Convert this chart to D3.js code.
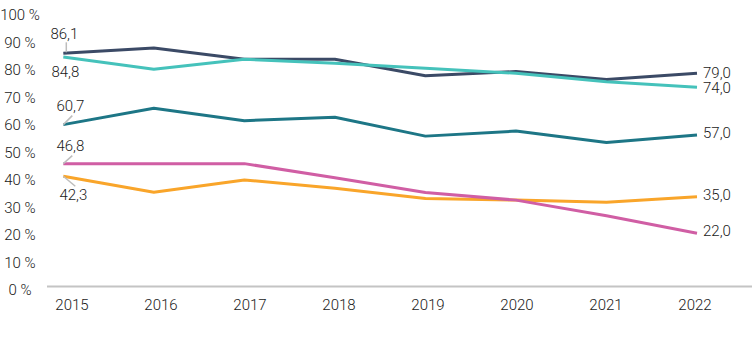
<!DOCTYPE html>
<html>
<head>
<meta charset="utf-8">
<script src="https://cdn.jsdelivr.net/npm/d3@7"></script>
<style>
html,body{margin:0;padding:0;background:#fff;}
svg text{font-family:Roboto,"Noto Sans",sans-serif;font-size:15px;font-weight:300;fill:#1a1a1a;}
</style>
</head>
<body>
<svg id="chart" width="752" height="346"></svg>
<script>
const years = [2015, 2016, 2017, 2018, 2019, 2020, 2021, 2022];
const yTicks = [0, 10, 20, 30, 40, 50, 60, 70, 80, 90, 100];
const seriesNavy      = [86.1, 88.0, 84.0, 84.0, 78.1, 79.6, 76.8, 79.0];
const seriesTurquoise = [84.8, 80.4, 84.0, 82.6, 80.8, 79.0, 76.0, 74.0];
const seriesTeal      = [60.7, 66.5, 62.1, 63.3, 56.6, 58.4, 54.3, 57.0];
const seriesPink      = [46.8, 46.8, 46.8, 41.8, 36.5, 33.8, 28.2, 22.0];
const seriesOrange    = [42.3, 36.6, 41.0, 38.0, 34.4, 33.8, 33.0, 35.0];

const series = [
  {name:"navy", values:seriesNavy, color:"#3b4a66", first:{dx:1, dy:-19, lead:[[3,-1],[3,-11]]}, last:{dy:0}},
  {name:"turquoise", values:seriesTurquoise, color:"#45c2bb", first:{dx:2, dy:15, lead:null}, last:{dy:0.5}},
  {name:"teal", values:seriesTeal, color:"#1d7686", first:{dx:7, dy:-19, lead:[[0,0],[9,-9]]}, last:{dy:-2}},
  {name:"pink", values:seriesPink, color:"#d05ea4", first:{dx:7, dy:-18, lead:[[0,0],[9,-8]]}, last:{dy:-2}},
  {name:"orange", values:seriesOrange, color:"#f9a52a", first:{dx:10, dy:19, lead:[[0,0],[12,10]]}, last:{dy:-2}}
];

const fmt = v => d3.format(".1f")(v).replace(".", ",");

const svg = d3.select("#chart");

// data scales
const x = d3.scalePoint().domain(years).range([63.3, 697]);
const y = d3.scaleLinear().domain([0, 100]).range([295, 14.3]);
// axis label scales
const xLab = d3.scalePoint().domain(years).range([72, 695]);
const yLab = d3.scaleLinear().domain([0, 100]).range([290, 15]);

// baseline
svg.append("line")
  .attr("x1", 47).attr("x2", 752)
  .attr("y1", 286.5).attr("y2", 286.5)
  .attr("stroke", "#c4c4c4").attr("stroke-width", 2);

// y labels
svg.append("g").selectAll("text").data(yTicks).join("text")
  .attr("x", 20).attr("y", d => yLab(d))
  .attr("text-anchor", "middle").attr("dominant-baseline", "central")
  .text(d => d + " %");

// x labels
svg.append("g").selectAll("text").data(years).join("text")
  .attr("x", d => xLab(d)).attr("y", 305)
  .attr("text-anchor", "middle").attr("dominant-baseline", "central")
  .text(d => d);

const line = d3.line().x((d, i) => x(years[i])).y(d => y(d));

const order = ["orange", "pink", "teal", "navy", "turquoise"];
order.forEach(n => {
  const s = series.find(t => t.name === n);
  svg.append("path").datum(s.values)
    .attr("d", line)
    .attr("fill", "none")
    .attr("stroke", s.color)
    .attr("stroke-width", 3)
    .attr("stroke-linejoin", "round");
});

series.forEach(s => {
  const x0 = x(years[0]), y0 = y(s.values[0]);
  if (s.first.lead) {
    svg.append("line")
      .attr("x1", x0 + s.first.lead[0][0]).attr("y1", y0 + s.first.lead[0][1])
      .attr("x2", x0 + s.first.lead[1][0]).attr("y2", y0 + s.first.lead[1][1])
      .attr("stroke", "#bdbdbd").attr("stroke-width", 1.5);
  }
  svg.append("text")
    .attr("x", x0 + s.first.dx).attr("y", y0 + s.first.dy)
    .attr("text-anchor", "middle").attr("dominant-baseline", "central")
    .text(fmt(s.values[0]));
  const n = s.values.length - 1;
  svg.append("text")
    .attr("x", x(years[n]) + 6).attr("y", y(s.values[n]) + s.last.dy)
    .attr("dominant-baseline", "central")
    .text(fmt(s.values[n]));
});
</script>
</body>
</html>
